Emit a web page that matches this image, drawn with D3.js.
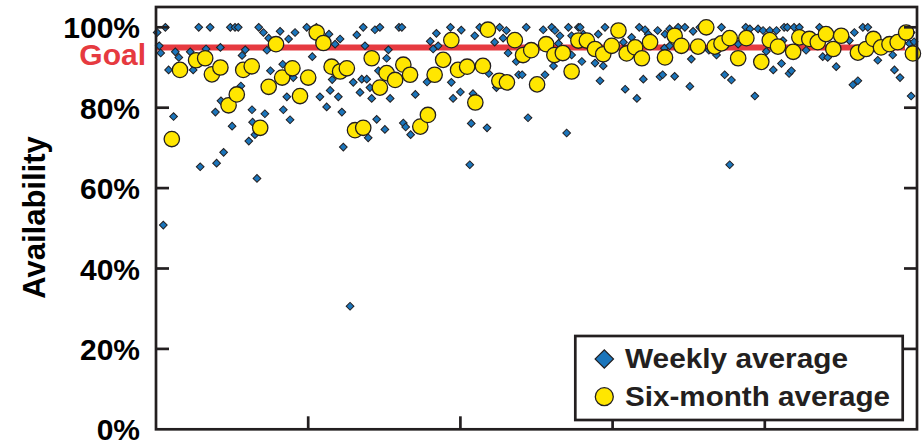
<!DOCTYPE html>
<html lang="en">
<head>
    <meta charset="UTF-8">
    <title>Availability</title>
    <script src="https://cdn.jsdelivr.net/npm/d3@7"></script>
    <style>
        body { margin: 0; background: #fff; }
        text { font-family: "Liberation Sans", Arial, Helvetica, sans-serif; font-weight: bold; }
    </style>
</head>
<body>
<div id="chart"></div>

<script>
    // weekly average availability: [week, percent]
    var weeklyAvg = [
        [0.4, 98.7], [1.1, 95.4], [1.6, 93.6], [2.5, 50.8], [3.2, 100], [4.3, 89.4], [6.0, 77.8], [6.6, 93.9],
        [7.8, 92.5], [11.7, 93.9], [12.7, 89.4], [14.6, 100], [15.1, 65.3], [17.1, 94.6], [18.5, 100], [20.3, 78.9],
        [20.7, 66.2], [22.0, 95], [22.2, 81.7], [23.1, 68.9], [25.4, 100], [26.0, 75.4], [27.0, 100], [28.1, 100],
        [29.0, 85.4], [29.4, 93], [30.5, 94.4], [31.7, 71.7], [32.8, 79.5], [33.0, 76.4], [33.8, 73.3], [34.5, 62.4],
        [35.1, 100], [36.7, 98.7], [37.2, 78.5], [37.9, 94.3], [38.5, 97.3], [39.1, 89.2], [42.4, 99], [43.3, 90.8],
        [43.5, 79.5], [44.7, 82.7], [45.3, 97.1], [45.8, 77], [46.9, 87.5], [47.5, 98.7], [51.5, 100], [53.4, 92.7],
        [54.8, 100], [56.0, 82.7], [58.3, 80.2], [59.1, 98.3], [59.5, 84.3], [60.2, 87], [61.2, 95.8], [62.3, 82.7],
        [62.9, 97.1], [63.5, 78.9], [64.0, 70.2], [66.3, 30.6], [67.4, 86.3], [68.6, 98.1], [69.7, 83.8], [70.3, 87.1],
        [70.8, 100], [71.4, 95.4], [72.0, 87.1], [72.5, 72.5], [73.1, 85], [73.7, 82.3], [74.8, 99.4], [75.4, 77.1],
        [76.0, 89.2], [76.5, 100], [78.2, 74.6], [78.8, 92.3], [79.4, 94.4], [80.0, 82.3], [83.0, 100], [84.0, 100],
        [84.5, 76.2], [85.3, 75.2], [87.0, 73.3], [88.6, 83.3], [92.6, 86.4], [93.7, 96.5], [94.7, 94.6], [95.8, 98.5],
        [96.4, 95.4], [100.6, 100], [100.9, 86.3], [101.5, 82.3], [104.0, 83.9], [104.3, 99.3], [107.2, 65.8], [107.7, 76.1],
        [108.3, 83.5], [108.9, 97.9], [110.6, 100], [113.1, 75], [113.7, 88.5], [115.7, 96.3], [116.3, 85], [117.4, 100],
        [118.6, 97.3], [119.7, 99.2], [120.3, 93.6], [123.1, 91.5], [123.9, 88.2], [125.1, 88.2], [126.5, 100], [127.1, 77.5],
        [132.3, 99.4], [132.9, 88.2], [135.2, 100], [135.8, 90.4], [136.3, 99.2], [137.5, 96], [138.0, 97.9], [140.3, 73.7],
        [140.9, 100], [142.0, 97.9], [142.0, 93.1], [144.3, 100], [144.9, 100], [145.5, 91.5], [146.0, 98.3], [150.0, 91.1],
        [151.1, 98.3], [151.7, 86.7], [152.8, 90.4], [153.4, 100], [159.7, 96.3], [160.3, 84.6], [162.5, 97.5], [164.3, 82.3],
        [165.1, 100], [166.5, 87.1], [167.1, 99.4], [168.2, 98.3], [171.4, 99.2], [172.2, 87.7], [173.1, 88.2], [173.7, 94.8],
        [173.9, 98.3], [175.5, 99.6], [175.5, 95.4], [177.2, 87.8], [178.1, 97.7], [178.4, 100], [180.7, 100], [182.4, 85.3],
        [182.9, 92.1], [183.5, 99], [185.8, 100], [188.9, 94.3], [191.5, 93.1], [193.2, 100], [194.3, 88.2], [196.0, 65.8],
        [196.6, 86.9], [198.9, 95.8], [201.5, 100], [202.9, 99.6], [204.6, 82.9], [205.7, 99.6], [207.4, 99.2], [208.5, 94],
        [209.7, 99.2], [210.9, 89.4], [212.0, 99.2], [213.7, 91], [214.2, 96.7], [214.6, 100], [215.7, 100], [216.3, 88.5],
        [217.1, 89.2], [218.0, 100], [219.8, 100], [222.1, 94.3], [226.7, 100], [227.8, 92.7], [229.5, 92.5], [232.4, 90.2],
        [236.9, 96.7], [238.1, 85.7], [238.6, 98.7], [239.8, 86.7], [241.5, 100], [243.2, 100], [246.6, 91.8], [251.7, 93.1],
        [252.3, 89.4], [254.2, 87.5], [257.4, 96], [258.0, 98.7], [258.0, 82.9], [259.0, 96.4]
    ];

    // six-month average availability: [week, percent]
    var sixMonthAvg = [
        [5.4, 72.2], [8.2, 89.4], [13.7, 91.8], [16.8, 92.3], [19.1, 88.3], [22.0, 90], [24.8, 80.6], [27.6, 83.3],
        [29.8, 89.4], [32.7, 90.3], [35.6, 75], [38.5, 85.2], [41.0, 95.8], [43.1, 87.5], [46.6, 89.8], [49.2, 82.9],
        [52.0, 87.5], [54.9, 98.7], [57.2, 96.1], [60.0, 90.2], [62.9, 89], [65.2, 89.8], [68.0, 74.4], [70.8, 75],
        [73.7, 92.3], [76.5, 85], [78.8, 88.6], [81.7, 86.9], [84.5, 90.7], [86.8, 88.2], [90.3, 75.3], [92.9, 78.2],
        [95.2, 88.2], [98.1, 91.9], [100.9, 96.8], [103.2, 89.4], [106.3, 90.2], [109.1, 81.3], [111.7, 90.4], [113.4, 99.4],
        [117.3, 86.7], [119.9, 86.3], [122.6, 96.8], [125.4, 93.1], [128.2, 94.3], [130.2, 85.8], [133.3, 95.8], [136.1, 93.1],
        [139.0, 93.6], [142.0, 89], [144.3, 96.7], [147.2, 96.7], [150.0, 94.6], [152.8, 93.3], [155.7, 95.4], [158.0, 99.2],
        [160.8, 93.5], [163.7, 95], [166.0, 92.3], [168.8, 96.3], [173.9, 92.5], [177.2, 97.9], [179.5, 95.4], [185.2, 95.2],
        [188.0, 100], [190.9, 95.2], [193.2, 96], [196.0, 97.3], [198.9, 92.3], [201.7, 97.3], [206.8, 91.4], [209.7, 96.8],
        [212.5, 95.2], [217.7, 93.9], [219.8, 97.5], [223.2, 97.1], [226.1, 96.3], [228.9, 98.3], [231.4, 94.6], [234.1, 97.9],
        [239.8, 93.7], [242.6, 94.6], [245.1, 97.1], [247.7, 95], [250.6, 95.8], [253.4, 96.3], [256.3, 98.7], [258.6, 93.5]
    ];

    var goal = 95;
    var yTicks = [0, 20, 40, 60, 80, 100];
    var xTicks = [52, 104, 156, 208];       // one tick per year, unlabeled
    var legendLabels = ["Weekly average", "Six-month average"];

    var width = 924, height = 440;
    var plotL = 156, plotR = 917, plotT = 7, plotB = 429.3;
    var ink = "#231f20", red = "#e63a40", blue = "#1b75bb", yellow = "#ffe600";

    var svg = d3.select("#chart")
        .append("svg")
        .attr("width", width)
        .attr("height", height);

    var x = d3.scaleLinear().domain([0, 260]).range([plotL, plotR]);
    var y = d3.scaleLinear().domain([0, 105.05]).range([plotB, plotT]);

    // goal line, under the markers
    svg.append("line")
        .attr("x1", plotL).attr("x2", plotR - 12)
        .attr("y1", y(goal)).attr("y2", y(goal))
        .attr("stroke", red)
        .attr("stroke-width", 6);

    svg.append("text")
        .attr("x", 146)
        .attr("y", y(goal) + 18)
        .attr("text-anchor", "end")
        .style("font-size", "30px")
        .attr("fill", red)
        .text("Goal");

    // weekly diamonds
    var diamond = d3.symbol().type(d3.symbolSquare).size(30);
    svg.append("g")
        .selectAll("path")
        .data(weeklyAvg)
        .enter().append("path")
        .attr("d", diamond)
        .attr("transform", function(d) { return "translate(" + x(d[0]) + "," + y(d[1]) + ") rotate(45)"; })
        .attr("fill", blue)
        .attr("stroke", ink)
        .attr("stroke-width", 1);

    // six-month circles
    svg.append("g")
        .selectAll("circle")
        .data(sixMonthAvg)
        .enter().append("circle")
        .attr("cx", function(d) { return x(d[0]); })
        .attr("cy", function(d) { return y(d[1]); })
        .attr("r", 7.7)
        .attr("fill", yellow)
        .attr("stroke", ink)
        .attr("stroke-width", 1.3);

    // frame
    svg.append("rect")
        .attr("x", plotL).attr("y", plotT)
        .attr("width", plotR - plotL).attr("height", plotB - plotT)
        .attr("fill", "none")
        .attr("stroke", ink)
        .attr("stroke-width", 2.7);

    // ticks on the inside of the frame
    var tk = svg.append("g");
    yTicks.slice(1).forEach(function(t) {
        tk.append("line").attr("x1", plotL).attr("x2", plotL + 13)
            .attr("y1", y(t)).attr("y2", y(t));
        tk.append("line").attr("x1", plotR - 13).attr("x2", plotR)
            .attr("y1", y(t)).attr("y2", y(t));
    });
    xTicks.forEach(function(t) {
        tk.append("line").attr("x1", x(t)).attr("x2", x(t))
            .attr("y1", plotB).attr("y2", plotB - 13);
    });
    tk.selectAll("line").attr("stroke", ink).attr("stroke-width", 2.7);

    svg.append("g")
        .selectAll("text")
        .data(yTicks)
        .enter().append("text")
        .attr("x", 140)
        .attr("y", function(d) { return y(d) + 11; })
        .attr("text-anchor", "end")
        .style("font-size", "30px")
        .attr("fill", "#000")
        .text(function(d) { return d + "%"; });

    svg.append("text")
        .attr("transform", "translate(45,217.5) rotate(-90)")
        .attr("text-anchor", "middle")
        .style("font-size", "31px")
        .attr("fill", "#000")
        .text("Availability");

    // legend
    var lg = svg.append("g");
    lg.append("rect")
        .attr("x", 575.3).attr("y", 336)
        .attr("width", 327.4).attr("height", 84)
        .attr("fill", "#fff")
        .attr("stroke", ink)
        .attr("stroke-width", 2.7);

    lg.append("path")
        .attr("d", d3.symbol().type(d3.symbolSquare).size(170))
        .attr("transform", "translate(604.3,359) rotate(45)")
        .attr("fill", blue)
        .attr("stroke", ink)
        .attr("stroke-width", 1.2);

    lg.append("circle")
        .attr("cx", 604.3).attr("cy", 396.7).attr("r", 9)
        .attr("fill", yellow)
        .attr("stroke", ink)
        .attr("stroke-width", 1.3);

    lg.selectAll("text")
        .data(legendLabels)
        .enter().append("text")
        .attr("x", 625)
        .attr("y", function(d, i) { return 368 + i * 37.7; })
        .attr("textLength", function(d, i) { return i ? 265 : 223; })
        .attr("lengthAdjust", "spacingAndGlyphs")
        .style("font-size", "27px")
        .attr("fill", ink)
        .text(function(d) { return d; });
</script>
</body>
</html>
